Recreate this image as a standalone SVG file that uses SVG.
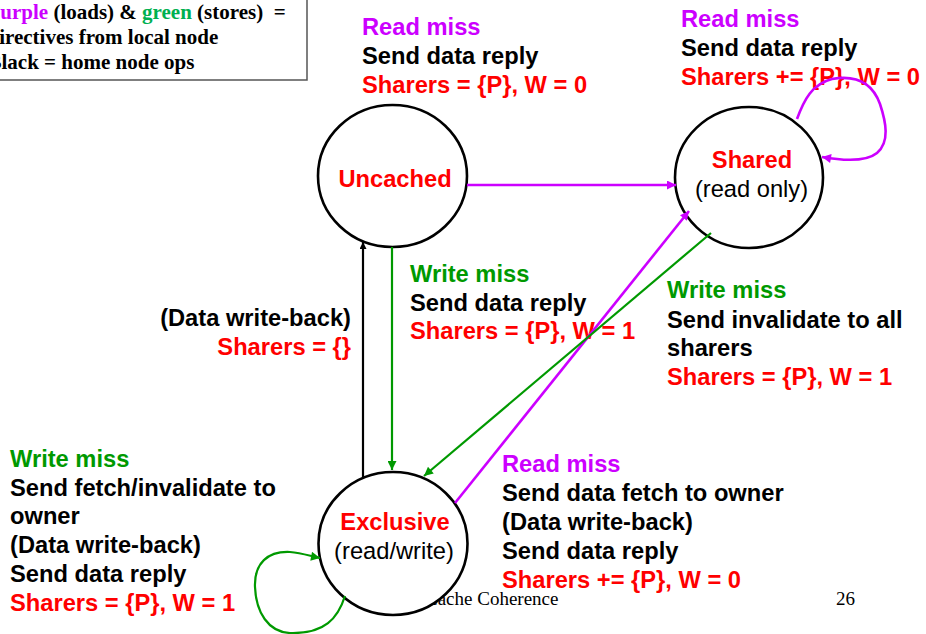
<svg xmlns="http://www.w3.org/2000/svg" width="926" height="634" viewBox="0 0 926 634">
<defs>
<style>
.b{font-family:"Liberation Sans",Arial,sans-serif;font-weight:bold;font-size:23.7px}
.r{font-family:"Liberation Sans",Arial,sans-serif;font-size:23.7px}
.pu{fill:#cc00ff}.gr{fill:#009900}.rd{fill:#ff0000}.bk{fill:#000}
.node{fill:#fff;stroke:#000;stroke-width:2.6}
.leg{font-family:"Liberation Serif","Times New Roman",serif;font-weight:bold;font-size:21px;fill:#000}
.foot{font-family:"Liberation Serif","Times New Roman",serif;font-size:19px;fill:#000}
.cp{fill:none;stroke:#cc00ff;stroke-width:2.6}
.cg{fill:none;stroke:#009900;stroke-width:2.2}
.ck{fill:none;stroke:#000;stroke-width:2.2}
</style>
<marker id="ap" viewBox="0 0 10 10" refX="10" refY="5" markerWidth="11" markerHeight="9" markerUnits="userSpaceOnUse" orient="auto"><path d="M0,0 L10,5 L0,10 z" fill="#cc00ff"/></marker>
<marker id="ag" viewBox="0 0 10 10" refX="10" refY="5" markerWidth="11" markerHeight="9" markerUnits="userSpaceOnUse" orient="auto"><path d="M0,0 L10,5 L0,10 z" fill="#009900"/></marker>
<marker id="ak" viewBox="0 0 10 10" refX="10" refY="5" markerWidth="9" markerHeight="7" markerUnits="userSpaceOnUse" orient="auto"><path d="M0,0 L10,5 L0,10 z" fill="#000"/></marker>
</defs>
<rect width="926" height="634" fill="#fff"/>

<g id="legend">
<rect x="-20" y="-20" width="327" height="100" fill="#fff" stroke="#555" stroke-width="1.5"/>
<text class="leg" x="-12.5" y="19" xml:space="preserve"><tspan fill="#cc00ff">Purple</tspan> (loads) &amp; <tspan fill="#00b050">green</tspan> (stores)  =</text>
<text class="leg" x="-12.5" y="44">directives from local node</text>
<text class="leg" x="-12.5" y="69">Black = home node ops</text>
</g>

<g id="footer">
<text class="foot" x="425" y="605">Cache Coherence</text>
<text class="foot" x="836" y="605">26</text>
</g>

<g id="labels">
<text class="b" x="362"><tspan class="pu" x="362" y="35">Read miss</tspan><tspan class="bk" x="362" y="64">Send data reply</tspan><tspan class="rd" x="362" y="93">Sharers = {P}, W = 0</tspan></text>
<text class="b" x="681"><tspan class="pu" x="681" y="27">Read miss</tspan><tspan class="bk" x="681" y="56">Send data reply</tspan><tspan class="rd" x="681" y="85">Sharers += {P}, W = 0</tspan></text>
<text class="b" x="410"><tspan class="gr" x="410" y="282">Write miss</tspan><tspan class="bk" x="410" y="310.5">Send data reply</tspan><tspan class="rd" x="410" y="339">Sharers = {P}, W = 1</tspan></text>
<text class="b" x="667"><tspan class="gr" x="667" y="298">Write miss</tspan><tspan class="bk" x="667" y="327.5">Send invalidate to all</tspan><tspan class="bk" x="667" y="356">sharers</tspan><tspan class="rd" x="667" y="385">Sharers = {P}, W = 1</tspan></text>
<text class="b" text-anchor="end"><tspan class="bk" x="351" y="326">(Data write-back)</tspan><tspan class="rd" x="351" y="355">Sharers = {}</tspan></text>
<text class="b" x="502"><tspan class="pu" x="502" y="472">Read miss</tspan><tspan class="bk" x="502" y="501">Send data fetch to owner</tspan><tspan class="bk" x="502" y="530">(Data write-back)</tspan><tspan class="bk" x="502" y="559">Send data reply</tspan><tspan class="rd" x="502" y="588">Sharers += {P}, W = 0</tspan></text>
<text class="b" x="10"><tspan class="gr" x="10" y="467">Write miss</tspan><tspan class="bk" x="10" y="495.7">Send fetch/invalidate to</tspan><tspan class="bk" x="10" y="524.4">owner</tspan><tspan class="bk" x="10" y="553">(Data write-back)</tspan><tspan class="bk" x="10" y="581.8">Send data reply</tspan><tspan class="rd" x="10" y="610.5">Sharers = {P}, W = 1</tspan></text>
</g>

<g id="uncached">
<ellipse class="node" cx="392.5" cy="176" rx="74.5" ry="71"/>
<text class="b rd" x="395" y="187" text-anchor="middle">Uncached</text>
</g>
<g id="shared">
<ellipse class="node" cx="749" cy="177.5" rx="74" ry="70.5"/>
<text class="b rd" x="752" y="168" text-anchor="middle">Shared</text>
<text class="r bk" x="751.5" y="197" text-anchor="middle">(read only)</text>
</g>
<g id="exclusive">
<ellipse class="node" cx="393" cy="543.5" rx="74.5" ry="71.5"/>
<text class="b rd" x="395" y="530" text-anchor="middle">Exclusive</text>
<text class="r bk" x="394" y="559" text-anchor="middle">(read/write)</text>
</g>

<g id="connectors">
<path class="cp" d="M467,185 L676,185" marker-end="url(#ap)"/>
<path class="cp" d="M455,503 L689,211" marker-end="url(#ap)"/>
<path class="cg" d="M711,233 L424,476" marker-end="url(#ag)"/>
<path class="cg" d="M392,247 L392,470" marker-end="url(#ag)"/>
<path class="ck" d="M363,477 L363,242" marker-end="url(#ak)"/>
<path class="cp" d="M797,119 C804,100 812,84 832,79 C855,75 872,82 880,104 C886,122 890,142 877,153 C866,162 845,161 822,157" marker-end="url(#ap)"/>
<path class="cg" d="M345,596 C338,618 325,634 290,633 C268,632 256,612 255,587 C254,563 268,551 290,552 C302,553 310,556 320,558" marker-end="url(#ag)"/>
</g>
</svg>
